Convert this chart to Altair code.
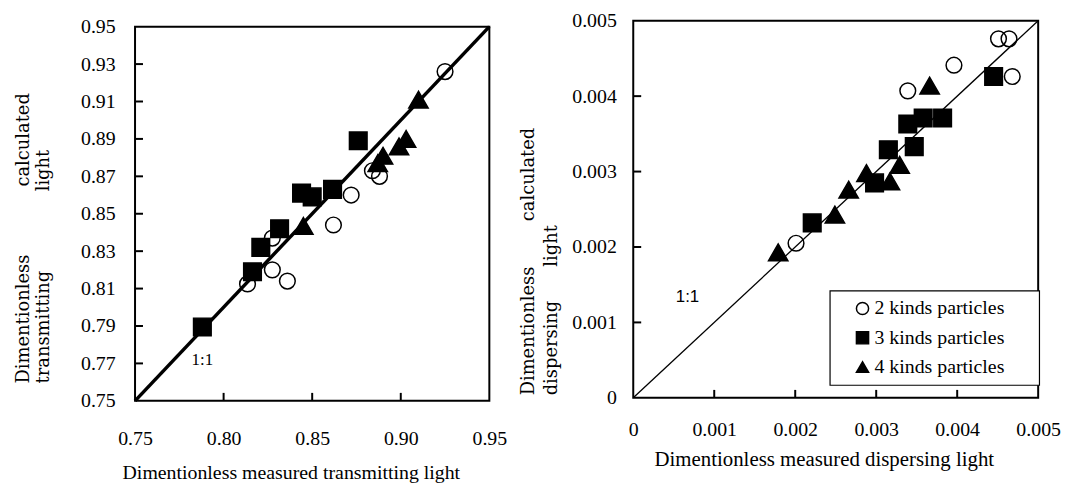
import altair as alt
import pandas as pd

NB = "\u00a0"

SERIES = ["2 kinds particles", "3 kinds particles", "4 kinds particles"]
SHAPES = ["circle", "square", "triangle-up"]
FILLS = ["transparent", "black", "black"]

# ---- Left panel: transmitting light (measured x, calculated y)
T2_X = [0.925, 0.884, 0.888, 0.872, 0.862, 0.8275, 0.8275, 0.836, 0.8135]
T2_Y = [0.926, 0.873, 0.870, 0.860, 0.844, 0.837, 0.820, 0.814, 0.8125]
T3_X = [0.876, 0.844, 0.850, 0.8615, 0.8316, 0.821, 0.8163, 0.788]
T3_Y = [0.889, 0.861, 0.859, 0.863, 0.842, 0.832, 0.819, 0.7895]
T4_X = [0.910, 0.903, 0.899, 0.890, 0.887, 0.845]
T4_Y = [0.911, 0.890, 0.886, 0.881, 0.877, 0.8435]

# ---- Right panel: dispersing light (measured x, calculated y)
D2_X = [0.00451, 0.00464, 0.00396, 0.00468, 0.00339, 0.00201]
D2_Y = [0.00476, 0.00476, 0.00441, 0.00426, 0.00407, 0.00205]
D3_X = [0.00445, 0.00339, 0.00358, 0.00382, 0.00347, 0.00315, 0.00298, 0.00221]
D3_Y = [0.00426, 0.00363, 0.00371, 0.00371, 0.00333, 0.00329, 0.00285, 0.00232]
D4_X = [0.00366, 0.00329, 0.00317, 0.00288, 0.00266, 0.00249, 0.00179]
D4_Y = [0.00414, 0.00309, 0.00287, 0.00298, 0.00276, 0.00243, 0.00193]

T_DOMAIN = [0.75, 0.95]
T_XTICKS = [0.75, 0.80, 0.85, 0.90, 0.95]
T_YTICKS = [0.75, 0.77, 0.79, 0.81, 0.83, 0.85, 0.87, 0.89, 0.91, 0.93, 0.95]
D_DOMAIN = [0.0, 0.005]
D_TICKS = [0.0, 0.001, 0.002, 0.003, 0.004, 0.005]

T_NOTE = {"x": [0.788], "y": [0.7717], "text": ["1:1"]}
D_NOTE = {"x": [0.00067], "y": [0.00134], "text": ["1:1"]}

T_XTITLE = "Dimentionless measured transmitting light"
T_YTITLE = ["Dimentionless" + NB * 12 + "calculated", "transmitting" + NB * 14 + "light"]
D_XTITLE = "Dimentionless measured dispersing light"
D_YTITLE = ["Dimentionless" + NB * 8 + "calculated", "dispersing" + NB * 6 + "light"]

SERIF = "Liberation Serif"


def points(xs_list, ys_list):
    rows = []
    for name, xs, ys in zip(SERIES, xs_list, ys_list):
        for x, y in zip(xs, ys):
            rows.append({"x": x, "y": y, "series": name})
    return pd.DataFrame(rows)


tdf = points([T2_X, T3_X, T4_X], [T2_Y, T3_Y, T4_Y])
ddf = points([D2_X, D3_X, D4_X], [D2_Y, D3_Y, D4_Y])


def panel(df, domain, xticks, yticks, xscale, yscale, xaxis, yaxis, line_w, note, note_font, legend):
    frame_df = pd.DataFrame({"x0": [domain[0]], "x1": [domain[1]],
                             "y0": [domain[0]], "y1": [domain[1]]})
    line_df = pd.DataFrame({"x": domain, "y": domain})
    xt_df = pd.DataFrame({"x": xticks[1:-1], "y": [domain[0]] * (len(xticks) - 2)})
    yt_df = pd.DataFrame({"y": yticks[1:-1], "x": [domain[0]] * (len(yticks) - 2)})

    frame = alt.Chart(frame_df).mark_rect(filled=False, color="black", strokeWidth=2).encode(
        x=alt.X("x0:Q", scale=xscale, axis=xaxis),
        x2="x1:Q",
        y=alt.Y("y0:Q", scale=yscale, axis=yaxis),
        y2="y1:Q",
    )
    xt = alt.Chart(xt_df).mark_tick(orient="vertical", size=8, thickness=2,
                                    yOffset=-4, color="black", opacity=1).encode(
        x=alt.X("x:Q", scale=xscale), y=alt.Y("y:Q", scale=yscale)
    )
    yt = alt.Chart(yt_df).mark_tick(orient="horizontal", size=8, thickness=2,
                                    xOffset=4, color="black", opacity=1).encode(
        x=alt.X("x:Q", scale=xscale), y=alt.Y("y:Q", scale=yscale)
    )
    diag = alt.Chart(line_df).mark_line(color="black", strokeWidth=line_w).encode(
        x=alt.X("x:Q", scale=xscale), y=alt.Y("y:Q", scale=yscale)
    )
    pts = alt.Chart(df).mark_point(filled=True, stroke="black", strokeWidth=1.5, opacity=1).encode(
        x=alt.X("x:Q", scale=xscale),
        y=alt.Y("y:Q", scale=yscale),
        shape=alt.Shape("series:N", scale=alt.Scale(domain=SERIES, range=SHAPES), legend=legend),
        fill=alt.Fill("series:N", scale=alt.Scale(domain=SERIES, range=FILLS), legend=legend),
        size=alt.Size("series:O", scale=alt.Scale(type="point", range=[250, 380], padding=0),
                      legend=None),
    )
    txt = alt.Chart(pd.DataFrame(note)).mark_text(
        font=note_font, fontSize=17, color="black", align="center", baseline="middle"
    ).encode(x=alt.X("x:Q", scale=xscale), y=alt.Y("y:Q", scale=yscale), text="text:N")
    return alt.layer(frame, xt, yt, diag, pts, txt)


# ---- left
LW, LH = 357, 383
t_xscale = alt.Scale(domain=T_DOMAIN, nice=False, zero=False)
t_yscale = alt.Scale(domain=T_DOMAIN, nice=False, zero=False, range=[LH, 6])
t_xaxis = alt.Axis(values=T_XTICKS, tickCount=len(T_XTICKS), format=".2f", ticks=False,
                   tickSize=0, labelPadding=28, labelOverlap=False,
                   title=T_XTITLE, titleFontSize=20, titleX=157, titleY=72,
                   titleAlign="center", titleBaseline="middle")
t_yaxis = alt.Axis(values=T_YTICKS, tickCount=len(T_YTICKS), format=".2f", ticks=False,
                   tickSize=0, labelPadding=20, labelOverlap=False,
                   title=T_YTITLE, titleFont="DejaVu Serif", titleFontSize=18,
                   titleAngle=270, titleX=-121, titleY=365, titleAlign="left",
                   titleBaseline="top", titleLineHeight=20)
left = panel(tdf, T_DOMAIN, T_XTICKS, T_YTICKS, t_xscale, t_yscale, t_xaxis, t_yaxis, 3.5,
             T_NOTE, SERIF, None).properties(width=LW, height=LH)

# ---- right
RW, RH = 408, 380
d_xscale = alt.Scale(domain=D_DOMAIN, nice=False, zero=False)
d_yscale = alt.Scale(domain=D_DOMAIN, nice=False, zero=False)
d_xaxis = alt.Axis(values=D_TICKS, tickCount=len(D_TICKS), format="~g", ticks=False,
                   tickSize=0, labelPadding=22, labelOverlap=False,
                   title=D_XTITLE, titleFontSize=21, titleX=192, titleY=62,
                   titleAlign="center", titleBaseline="middle")
d_yaxis = alt.Axis(values=D_TICKS, tickCount=len(D_TICKS), format="~g", ticks=False,
                   tickSize=0, labelPadding=17, labelOverlap=False,
                   title=D_YTITLE, titleFont="DejaVu Serif", titleFontSize=18,
                   titleAngle=270, titleX=-115, titleY=377, titleAlign="left",
                   titleBaseline="top", titleLineHeight=24)
legend = alt.Legend(title="....", titleOrient="right", titleColor="white", titleFontSize=20,
                    titlePadding=4, orient="none", legendX=198, legendY=272,
                    strokeColor="black", padding=8, fillColor="white",
                    labelFont=SERIF, labelFontSize=20, labelColor="black",
                    labelLimit=260, symbolSize=150, symbolOffset=15, labelOffset=2,
                    rowPadding=9.5)
right = panel(ddf, D_DOMAIN, D_TICKS, D_TICKS, d_xscale, d_yscale, d_xaxis, d_yaxis, 1.3,
              D_NOTE, "Liberation Sans", legend).properties(width=RW, height=RH)

chart = alt.hconcat(left, right, spacing=12).resolve_scale(
    shape="independent", fill="independent", size="independent"
).properties(
    padding={"left": 6, "top": 1, "right": 0, "bottom": 0}, background="white"
).configure_view(stroke=None).configure_axis(
    grid=False, domain=False, labelFont=SERIF, labelFontSize=20,
    labelColor="black", labelFlush=False, titleFont=SERIF,
    titleFontWeight="normal", titleColor="black"
).configure_legend(strokeWidth=1.2, labelFont=SERIF, labelFontSize=20, labelColor="black")

chart.save("out.html", embed_options={"renderer": "svg", "actions": False})
